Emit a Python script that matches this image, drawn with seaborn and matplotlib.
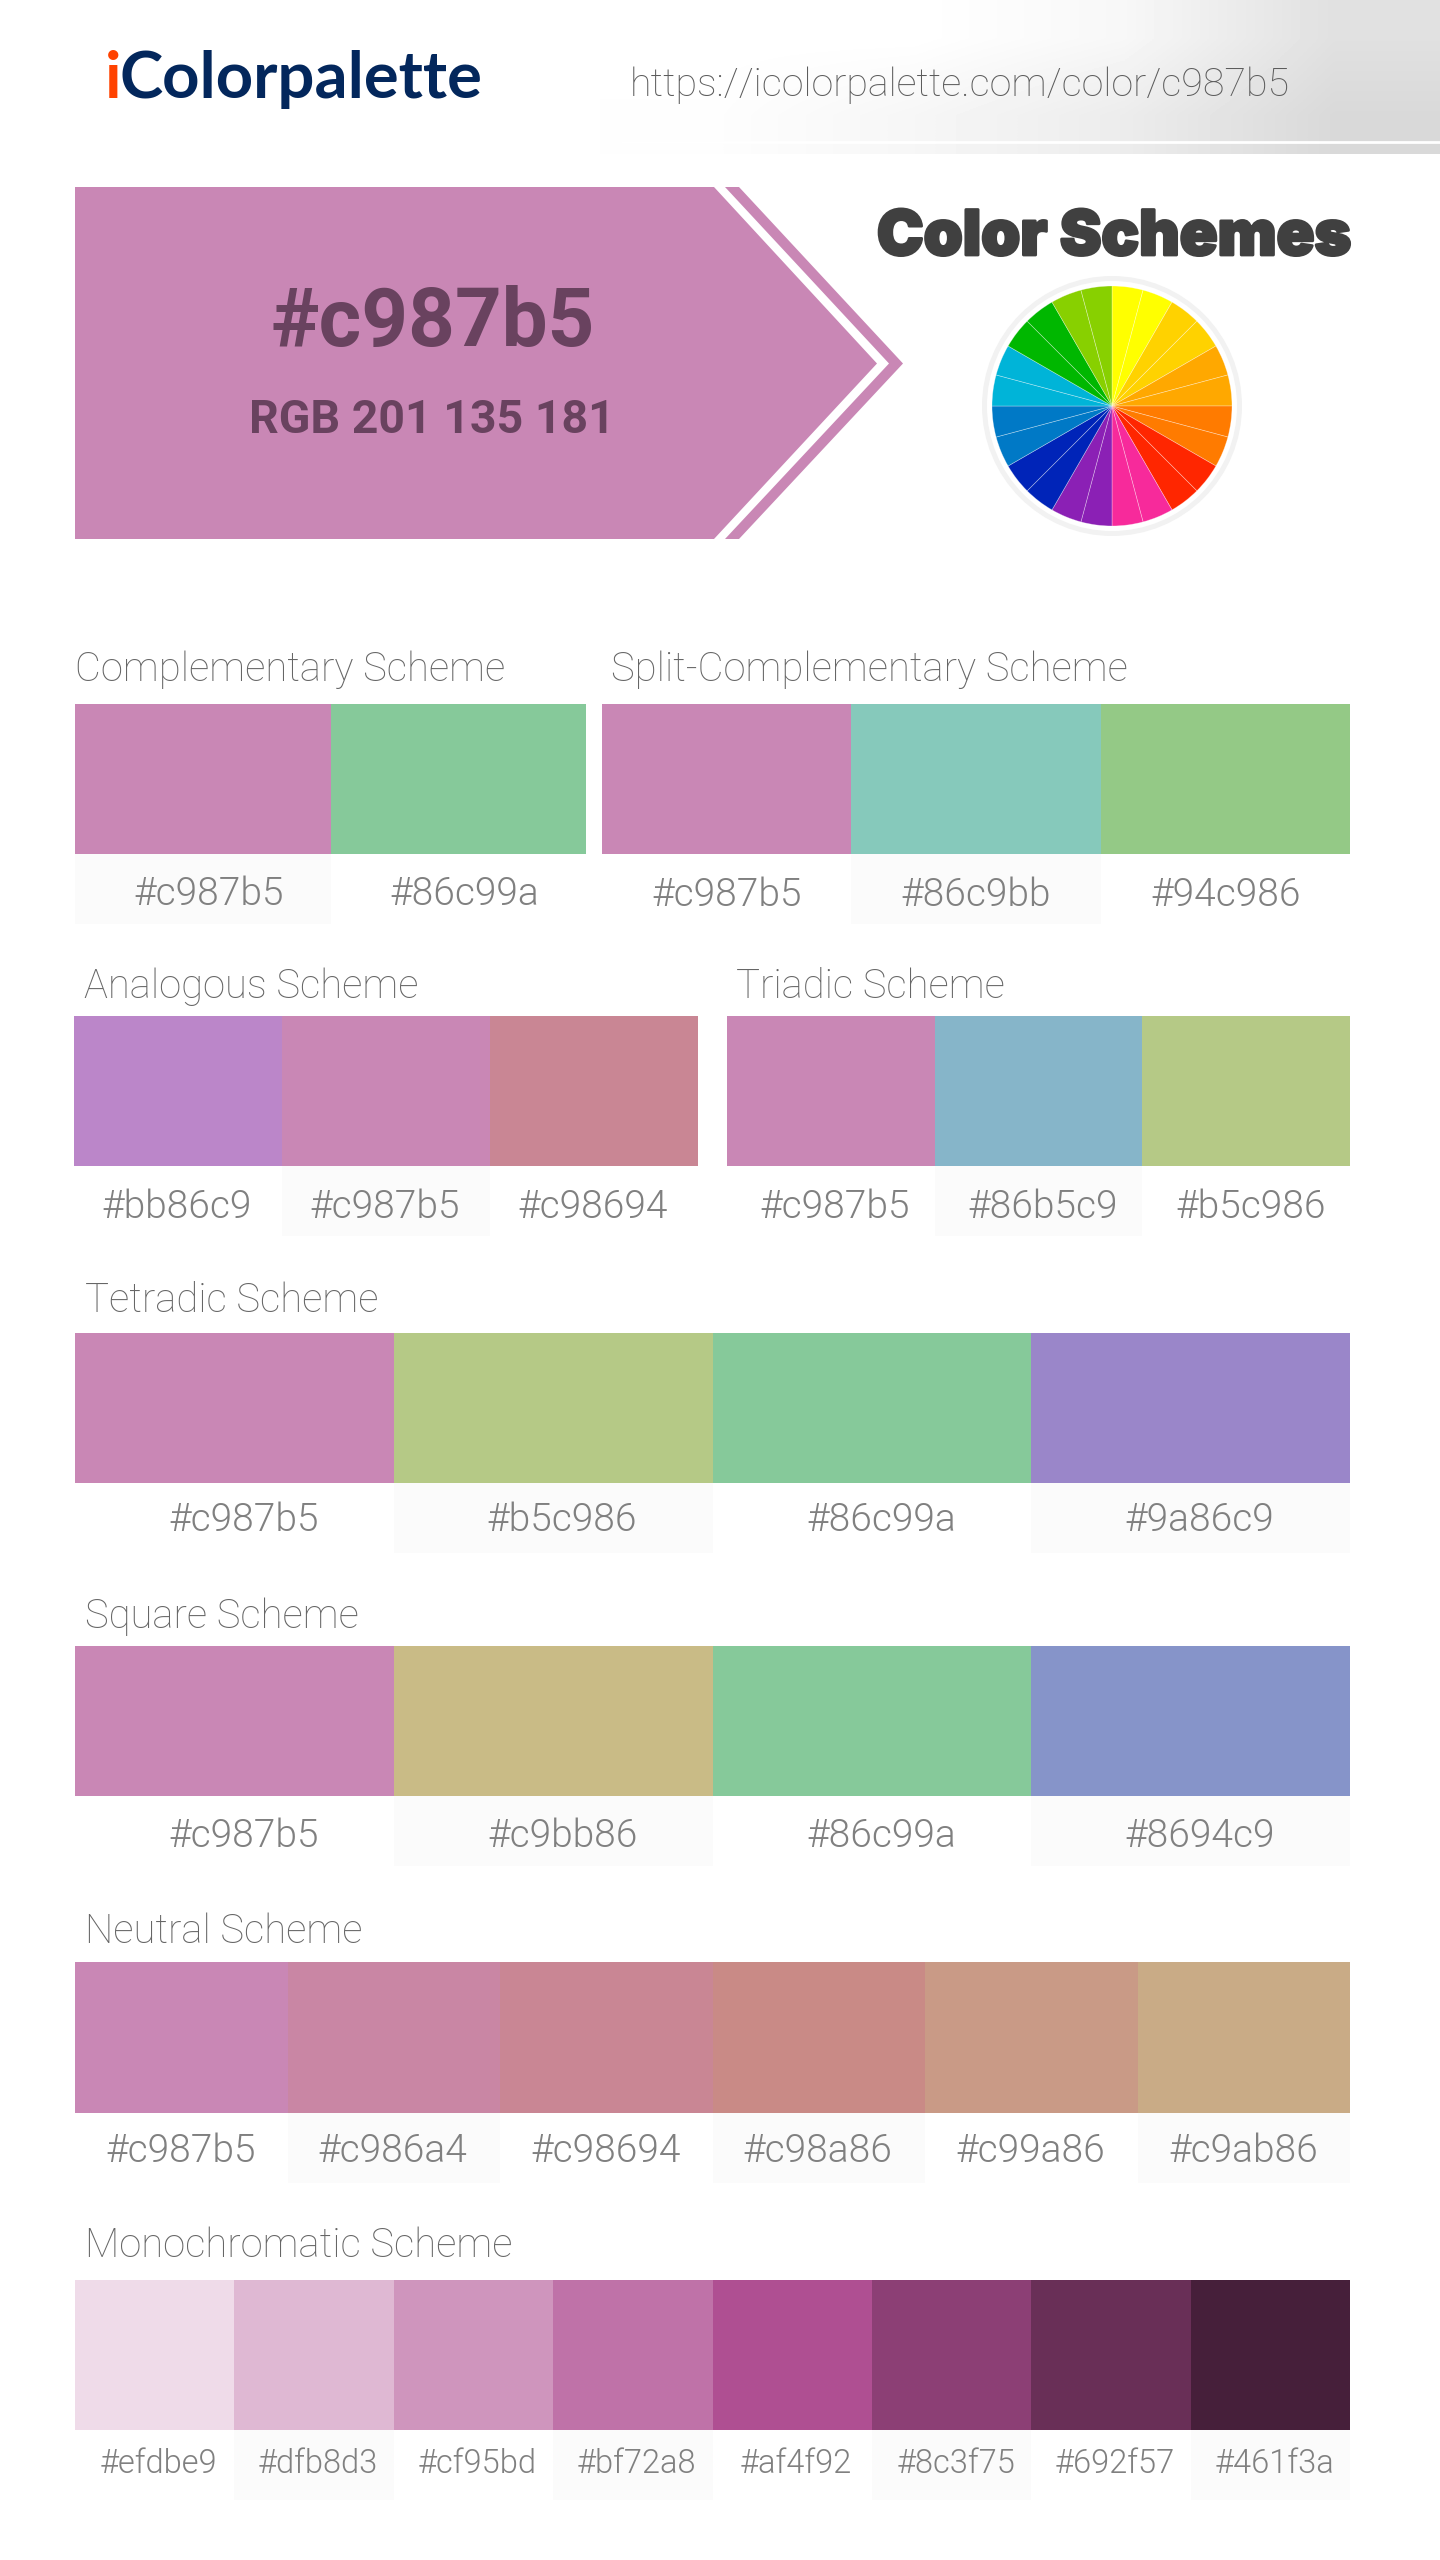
import matplotlib
matplotlib.use('Agg')
import matplotlib.pyplot as plt
import matplotlib.patheffects as pe
import numpy as np
import seaborn as sns
from matplotlib.colors import ListedColormap
from matplotlib.transforms import Affine2D

W, H = 1440, 2560

base_hex = '#c987b5'
base_rgb = 'RGB 201 135 181'
page_url = 'https://icolorpalette.com/color/c987b5'

complementary = ['#c987b5', '#86c99a']
split_complementary = ['#c987b5', '#86c9bb', '#94c986']
analogous = ['#bb86c9', '#c987b5', '#c98694']
triadic = ['#c987b5', '#86b5c9', '#b5c986']
tetradic = ['#c987b5', '#b5c986', '#86c99a', '#9a86c9']
square = ['#c987b5', '#c9bb86', '#86c99a', '#8694c9']
neutral = ['#c987b5', '#c986a4', '#c98694', '#c98a86', '#c99a86', '#c9ab86']
monochromatic = ['#efdbe9', '#dfb8d3', '#cf95bd', '#bf72a8', '#af4f92', '#8c3f75', '#692f57', '#461f3a']

wheel_colors = ['#ffff00', '#ffd200', '#ffa800', '#ff7b00', '#ff2600', '#f72a9b',
                '#8b20b5', '#0024b8', '#0079c6', '#00b4d8', '#00b700', '#88d000']
wheel_sizes = [15] * 24

# grey level of the header corner fade, left to right, top row then bottom row
header_shade = [[1.0, 1.0, 0.97, 0.88],
                [0.995, 0.965, 0.925, 0.85]]

# title, colors, x0, x1, swatch top, swatch bottom, strip bottom, title x, title baseline,
# label shift x, label shift y, label size, first strip cell grey
schemes = [
    ('Complementary Scheme', complementary, 75, 586, 704, 854, 924, 75, 681, 6, -5, 28, 1),
    ('Split-Complementary Scheme', split_complementary, 602, 1350, 704, 854, 924, 611, 681, 0, -6, 28, 0),
    ('Analogous Scheme', analogous, 74, 698, 1016, 1166, 1236, 84, 998, -1, -6, 28, 0),
    ('Triadic Scheme', triadic, 727, 1350, 1016, 1166, 1236, 736, 998, 4, -6, 28, 0),
    ('Tetradic Scheme', tetradic, 75, 1350, 1333, 1483, 1553, 85, 1312, 9, -2, 28, 0),
    ('Square Scheme', square, 75, 1350, 1646, 1796, 1866, 85, 1628, 9, -5, 28, 0),
    ('Neutral Scheme', neutral, 75, 1350, 1962, 2113, 2183, 85, 1943, -1, -3, 28, 0),
    ('Monochromatic Scheme', monochromatic, 75, 1350, 2280, 2430, 2500, 85, 2257, 4, 1, 23.5, 0),
]


def px_axes(fig, x0, y0, x1, y1, **kw):
    return fig.add_axes([x0 / W, 1 - y1 / H, (x1 - x0) / W, (y1 - y0) / H], **kw)


def draw_scheme(fig, title, colors, x0, x1, top, bottom, strip_bottom, tx, ty, dx, dy, lsize, first, overlay):
    n = len(colors)
    ax = px_axes(fig, x0, top, x1, bottom)
    sns.heatmap(np.arange(n).reshape(1, n), ax=ax, cmap=ListedColormap(colors), vmin=0, vmax=n - 1,
                cbar=False, xticklabels=False, yticklabels=False)

    strip = px_axes(fig, x0, bottom, x1, strip_bottom)
    cells = np.array([[(i + first) % 2 for i in range(n)]])
    sns.heatmap(cells, ax=strip, cmap=ListedColormap(['#ffffff', '#fbfbfb']), vmin=0, vmax=1,
                cbar=False, xticklabels=False, yticklabels=False,
                annot=np.array([colors]), fmt='',
                annot_kws={'color': '#808080', 'fontsize': lsize, 'family': 'Roboto', 'fontweight': 300})
    for t in strip.texts:
        t.set_transform(t.get_transform() + Affine2D().translate(dx, dy))

    overlay.text(tx, ty, title, family='Roboto', fontweight=100, fontsize=28.8, color='#666666', ha='left', va='baseline')


sns.set_theme(style='white')
plt.rcParams['font.family'] = ['Roboto', 'DejaVu Sans']

fig = plt.figure(figsize=(W / 100, H / 100), dpi=100, facecolor='white')

# header fade
head = px_axes(fig, 600, 0, W, 154)
head.imshow(np.array(header_shade), cmap='gray', vmin=0, vmax=1, aspect='auto', interpolation='bilinear')
head.axis('off')

# color wheel
wheel = px_axes(fig, 992, 286, 1232, 526)
wheel.pie(wheel_sizes, colors=[c for c in wheel_colors for _ in range(2)], startangle=90, counterclock=False,
          radius=1, wedgeprops={'edgecolor': (1, 1, 1, 0.4), 'linewidth': 0.5})
wheel.set_xlim(-1, 1)
wheel.set_ylim(-1, 1)

# everything placed in page pixels goes on this one
page = fig.add_axes([0, 0, 1, 1], zorder=5)
page.set_xlim(0, W)
page.set_ylim(H, 0)
page.axis('off')
page.patch.set_alpha(0)

page.plot([622, W], [142, 142], color='white', lw=2)
page.add_patch(plt.Circle((1112, 406), 127.5, fill=False, color='#f2f2f2', lw=3.6))

page.fill([75, 714, 877, 714, 75], [187, 187, 363.5, 539, 539], color=base_hex, lw=0)
page.fill([725, 739, 903, 739, 725, 889], [187, 187, 363.5, 539, 539, 363.5], color=base_hex, lw=0)

page.text(105, 98, 'i', family='Lato', fontweight='bold', fontsize=47, color='#ff4200', ha='left', va='baseline')
page.text(120, 98, 'Colorpalette', family='Lato', fontweight='bold', fontsize=47, color='#03275c', ha='left', va='baseline')
page.text(630, 96, page_url, family='Roboto', fontweight=100, fontsize=28.4, color='#5c5c5c', ha='left', va='baseline')

page.text(433, 346, base_hex, family='Roboto', fontweight='bold', fontsize=58.8, color='#69425f', ha='center', va='baseline')
page.text(432, 433, base_rgb, family='Roboto', fontweight='bold', fontsize=33.5, color='#69425f', ha='center', va='baseline')

title = page.text(1114, 255, 'Color Schemes', family='Inter', fontweight=900, fontsize=45, color='#404040', ha='center', va='baseline')
title.set_path_effects([pe.withStroke(linewidth=2, foreground='#404040')])

for s in schemes:
    draw_scheme(fig, *s, page)

fig.savefig('out.png', dpi=100)
